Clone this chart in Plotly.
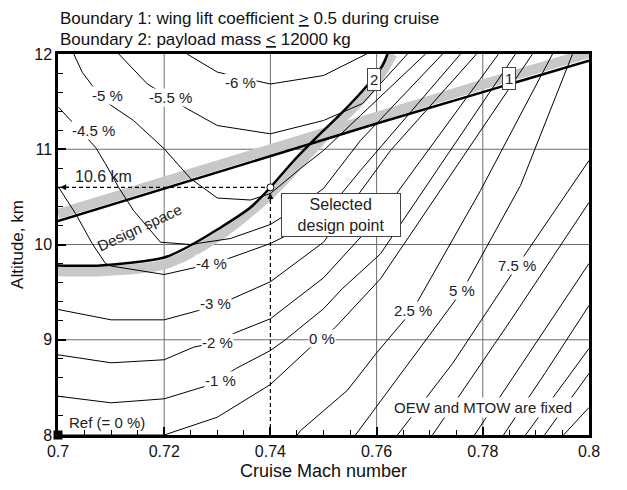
import plotly.graph_objects as go

# ---- contour lines of the objective change (Mach, altitude km)
m6_mach = [0.7243, 0.7300, 0.7400, 0.7500, 0.7581]
m6_alt = [12.0, 11.81, 11.685, 11.774, 12.0]

m55_mach = [0.71145, 0.7168, 0.72433, 0.7300, 0.7400, 0.7500, 0.75734, 0.76581]
m55_alt = [12.0, 11.687, 11.425, 11.249, 11.162, 11.302, 11.48, 12.0]

m5_mach = [0.70298, 0.70456, 0.70644, 0.70957, 0.71422, 0.7200, 0.72495, 0.7300,
           0.73625, 0.7400, 0.74567, 0.7500, 0.75696, 0.76921]
m5_alt = [12.0, 11.809, 11.669, 11.477, 11.302, 11.005, 10.693, 10.488,
          10.467, 10.535, 10.798, 10.987, 11.354, 12.0]

m45_mach = [0.7001, 0.70235, 0.70706, 0.70895, 0.71139, 0.71422, 0.7193, 0.72495,
            0.73248, 0.7400, 0.74567, 0.7500, 0.75696, 0.77241]
m45_alt = [11.441, 11.302, 11.021, 10.847, 10.602, 10.357, 10.024, 10.0,
           10.063, 10.21, 10.41, 10.588, 11.092, 12.0]

m4_mach = [0.7001, 0.7033, 0.70644, 0.70895, 0.7100, 0.7200, 0.72589, 0.73211,
           0.7400, 0.74567, 0.7500, 0.75696, 0.7758]
m4_alt = [10.602, 10.325, 10.01, 9.80, 9.774, 9.685, 9.759, 9.853,
          10.01, 10.168, 10.304, 10.777, 12.0]

m3_mach = [0.7000, 0.7100, 0.7200, 0.72646, 0.73249, 0.7400, 0.7500, 0.76262, 0.77882]
m3_alt = [9.318, 9.209, 9.209, 9.307, 9.423, 9.609, 10.024, 10.987, 12.0]

m2_mach = [0.7000, 0.7100, 0.7200, 0.72552, 0.7300, 0.73257, 0.7400, 0.7500, 0.76073, 0.78296]
m2_alt = [8.842, 8.758, 8.79, 8.922, 8.974, 9.055, 9.22, 9.65, 10.304, 12.0]

m1_mach = [0.7000, 0.7100, 0.7200, 0.72778, 0.7300, 0.73342, 0.7400, 0.74264,
           0.7500, 0.75352, 0.76073, 0.78616]
m1_alt = [8.407, 8.338, 8.38, 8.512, 8.572, 8.695, 8.887, 8.992,
          9.325, 9.535, 9.902, 12.0]

p0_mach = [0.7000, 0.7200, 0.7300, 0.7400, 0.74723, 0.74975, 0.75226, 0.76073, 0.78936]
p0_alt = [8.0, 8.0, 8.187, 8.53, 8.905, 9.01, 9.132, 9.64, 12.0]

p25_mach = [0.74505, 0.74567, 0.75446, 0.76011, 0.76676, 0.77957, 0.79313]
p25_alt = [8.0, 8.046, 8.467, 8.869, 9.307, 10.567, 12.0]

p5_mach = [0.75602, 0.7645, 0.77618, 0.7871, 0.7969]
p5_alt = [8.0, 8.638, 9.517, 10.619, 12.0]

p75_mach = [0.76393, 0.7743, 0.78654, 0.8000]
p75_alt = [8.0, 8.75, 9.78, 10.882]

p10_mach = [0.77053, 0.78523, 0.8000]
p10_alt = [8.0, 9.202, 10.441]

p15_mach = [0.77844, 0.78898, 0.8000]
p15_alt = [8.0, 8.887, 9.801]

p20_mach = [0.7839, 0.7918, 0.8000]
p20_alt = [8.0, 8.656, 9.36]

p25b_mach = [0.78804, 0.8000]
p25b_alt = [8.0, 8.908]

p30_mach = [0.79162, 0.8000]
p30_alt = [8.0, 8.646]

p40_mach = [0.7952, 0.8000]
p40_alt = [8.0, 8.289]

contour_lines = [
    (m6_mach, m6_alt), (m55_mach, m55_alt), (m5_mach, m5_alt), (m45_mach, m45_alt),
    (m4_mach, m4_alt), (m3_mach, m3_alt), (m2_mach, m2_alt), (m1_mach, m1_alt),
    (p0_mach, p0_alt), (p25_mach, p25_alt), (p5_mach, p5_alt), (p75_mach, p75_alt),
    (p10_mach, p10_alt), (p15_mach, p15_alt), (p20_mach, p20_alt), (p25b_mach, p25b_alt),
    (p30_mach, p30_alt), (p40_mach, p40_alt),
]

# ---- boundaries
b1_mach = [0.70, 0.74, 0.76, 0.78, 0.80]
b1_alt = [10.245, 10.93, 11.27, 11.60, 11.93]
b1_band_alt = [10.32, 11.01, 11.35, 11.68, 12.01]

b2_mach = [0.70, 0.708, 0.72, 0.72495, 0.73, 0.73625, 0.74, 0.7441,
           0.74849, 0.75352, 0.75823, 0.76111, 0.76205]
b2_alt = [9.78, 9.78, 9.863, 9.99, 10.157, 10.388, 10.6, 10.861,
          11.113, 11.386, 11.669, 11.879, 12.0]
b2_band_mach = [0.70, 0.708, 0.72, 0.73, 0.74, 0.7494, 0.7588, 0.7630]
b2_band_alt = [9.72, 9.72, 9.79, 10.08, 10.53, 11.09, 11.63, 12.0]

design_mach = 0.74
design_alt = 10.6

grid_mach = [0.72, 0.74, 0.76, 0.78]
grid_alt = [9, 10, 11]

x_ticks = [0.70, 0.72, 0.74, 0.76, 0.78, 0.80]
x_tick_text = ["0.7", "0.72", "0.74", "0.76", "0.78", "0.8"]
y_ticks = [8, 9, 10, 11, 12]

# contour label text and where it sits (Mach, altitude)
contour_labels = [
    ("-6 %", 0.7344, 11.70), ("-5.5 %", 0.7212, 11.546), ("-5 %", 0.7093, 11.564),
    ("-4.5 %", 0.7067, 11.197), ("-4 %", 0.7290, 9.797), ("-3 %", 0.7297, 9.377),
    ("-2 %", 0.7300, 8.974), ("-1 %", 0.7306, 8.572), ("0 %", 0.74975, 9.01),
    ("2.5 %", 0.76682, 9.307), ("5 %", 0.77612, 9.517), ("7.5 %", 0.78647, 9.78),
]
edge_labels = [("10 %", 10.43), ("15 %", 9.80), ("20 %", 9.38), ("30 %", 8.656)]

FONT = "Liberation Sans, Arial, sans-serif"
GRID = "#6e6e6e"

fig = go.Figure()

# grid lines (drawn by hand so the 0.74 line can stop at the design point)
for gm in grid_mach:
    lo = design_alt if gm == design_mach else 8
    fig.add_trace(go.Scatter(x=[gm, gm], y=[lo, 12], mode="lines",
                             line=dict(color=GRID, width=1), hoverinfo="skip"))
for ga in grid_alt:
    fig.add_trace(go.Scatter(x=[0.70, 0.80], y=[ga, ga], mode="lines",
                             line=dict(color=GRID, width=1), hoverinfo="skip"))

# grey shading bands on the infeasible side of each boundary
fig.add_trace(go.Scatter(x=b1_mach, y=b1_band_alt, mode="lines",
                         line=dict(color="#c8c8c8", width=10), hoverinfo="skip"))
fig.add_trace(go.Scatter(x=b2_band_mach, y=b2_band_alt, mode="lines",
                         line=dict(color="#c8c8c8", width=10, shape="spline", smoothing=0.8),
                         hoverinfo="skip"))

# contours
for cm, ca in contour_lines:
    fig.add_trace(go.Scatter(x=cm, y=ca, mode="lines",
                             line=dict(color="black", width=1), hoverinfo="skip"))

# boundaries
fig.add_trace(go.Scatter(x=b1_mach, y=b1_alt, mode="lines",
                         line=dict(color="black", width=2.5), hoverinfo="skip"))
fig.add_trace(go.Scatter(x=b2_mach, y=b2_alt, mode="lines",
                         line=dict(color="black", width=2.5, shape="spline", smoothing=0.8),
                         hoverinfo="skip"))

# dashed leaders from the design point
fig.add_trace(go.Scatter(x=[0.70, design_mach], y=[design_alt, design_alt], mode="lines",
                         line=dict(color="black", width=1.2, dash="4px,3px"), hoverinfo="skip"))
fig.add_trace(go.Scatter(x=[design_mach, design_mach], y=[8, design_alt], mode="lines",
                         line=dict(color="black", width=1.2, dash="4px,3px"), hoverinfo="skip"))

# design point and reference point
fig.add_trace(go.Scatter(x=[design_mach], y=[design_alt], mode="markers",
                         marker=dict(color="white", size=7, line=dict(color="black", width=1)),
                         hoverinfo="skip"))
fig.add_trace(go.Scatter(x=[0.70], y=[8.0], mode="markers", cliponaxis=False,
                         marker=dict(color="black", size=9, symbol="square"), hoverinfo="skip"))

annotations = []
for txt, lm, la in contour_labels:
    annotations.append(dict(x=lm, y=la, text=txt, showarrow=False, bgcolor="white",
                            borderpad=0, font=dict(size=15, color="#222")))
for txt, la in edge_labels:
    annotations.append(dict(x=0.8008, y=la, text=txt, showarrow=False, xanchor="left",
                            font=dict(size=15, color="#222")))

annotations += [
    dict(x=0.70857, y=10.714, text="10.6 km", showarrow=False, font=dict(size=16, color="#222")),
    dict(x=0.71535, y=10.178, text="Design space", showarrow=False, textangle=-25,
         font=dict(size=15, color="#222")),
    dict(x=0.75325, y=10.312, text="Selected<br>design point", showarrow=False,
         bgcolor="white", bordercolor="#444", borderwidth=1, width=116, height=40,
         font=dict(size=16, color="#222")),
    dict(x=0.7017, y=8.134, text="Ref (= 0 %)", showarrow=False, xanchor="left",
         font=dict(size=15, color="#222")),
    dict(x=0.78003, y=8.285, text="OEW and MTOW are fixed", showarrow=False,
         bgcolor="white", font=dict(size=15, color="#222")),
    # boundary tags
    dict(x=0.7595, y=11.73, text="2", showarrow=False, bgcolor="white",
         bordercolor="#444", borderwidth=1, borderpad=2, font=dict(size=15, color="#222")),
    dict(x=0.78484, y=11.742, text="1", showarrow=False, bgcolor="white",
         bordercolor="#444", borderwidth=1, borderpad=2, font=dict(size=15, color="#222")),
    # arrow heads of the dashed leaders
    dict(x=0.7004, y=design_alt, ax=10, ay=0, text="", showarrow=True, arrowhead=2,
         arrowsize=1, arrowwidth=1.2, arrowcolor="black"),
    dict(x=design_mach, y=10.54, ax=0, ay=10, text="", showarrow=True, arrowhead=2,
         arrowsize=1, arrowwidth=1.2, arrowcolor="black"),
    # header
    dict(x=0, y=1.0, xref="paper", yref="paper", yanchor="bottom", xanchor="left", yshift=24,
         text="Boundary 1: wing lift coefficient <u>&gt;</u> 0.5 during cruise",
         showarrow=False, font=dict(size=17, color="#111")),
    dict(x=0, y=1.0, xref="paper", yref="paper", yanchor="bottom", xanchor="left", yshift=3,
         text="Boundary 2: payload mass <u>&lt;</u> 12000 kg",
         showarrow=False, font=dict(size=17, color="#111")),
]

# the page body has an 8 px margin, so the margins are trimmed to land the
# plot area where the reference has it
fig.update_layout(
    width=627, height=490,
    margin=dict(l=50, r=46, t=46, b=63),
    paper_bgcolor="white", plot_bgcolor="white",
    showlegend=False,
    font=dict(family=FONT, size=16, color="#111"),
    annotations=annotations,
)
fig.update_xaxes(
    range=[0.70, 0.80], tickvals=x_ticks, ticktext=x_tick_text,
    showgrid=False, zeroline=False, automargin=False,
    showline=True, mirror=True, linecolor="black", linewidth=2.5,
    ticks="inside", ticklen=8, tickwidth=2, tickcolor="black",
    minor=dict(tick0=0.70, dtick=0.005, ticks="inside", ticklen=5, tickwidth=1,
               tickcolor="black", showgrid=False),
    title=dict(text="Cruise Mach number", font=dict(size=18), standoff=6),
    tickfont=dict(size=16),
)
fig.update_yaxes(
    range=[8, 12], tickvals=y_ticks,
    showgrid=False, zeroline=False, automargin=False,
    showline=True, mirror=True, linecolor="black", linewidth=2.5,
    ticks="inside", ticklen=8, tickwidth=2, tickcolor="black",
    minor=dict(tick0=8, dtick=0.2, ticks="inside", ticklen=5, tickwidth=1,
               tickcolor="black", showgrid=False),
    title=dict(text="Altitude, km", font=dict(size=17), standoff=10),
    tickfont=dict(size=16),
)

fig.write_html("out.html")
